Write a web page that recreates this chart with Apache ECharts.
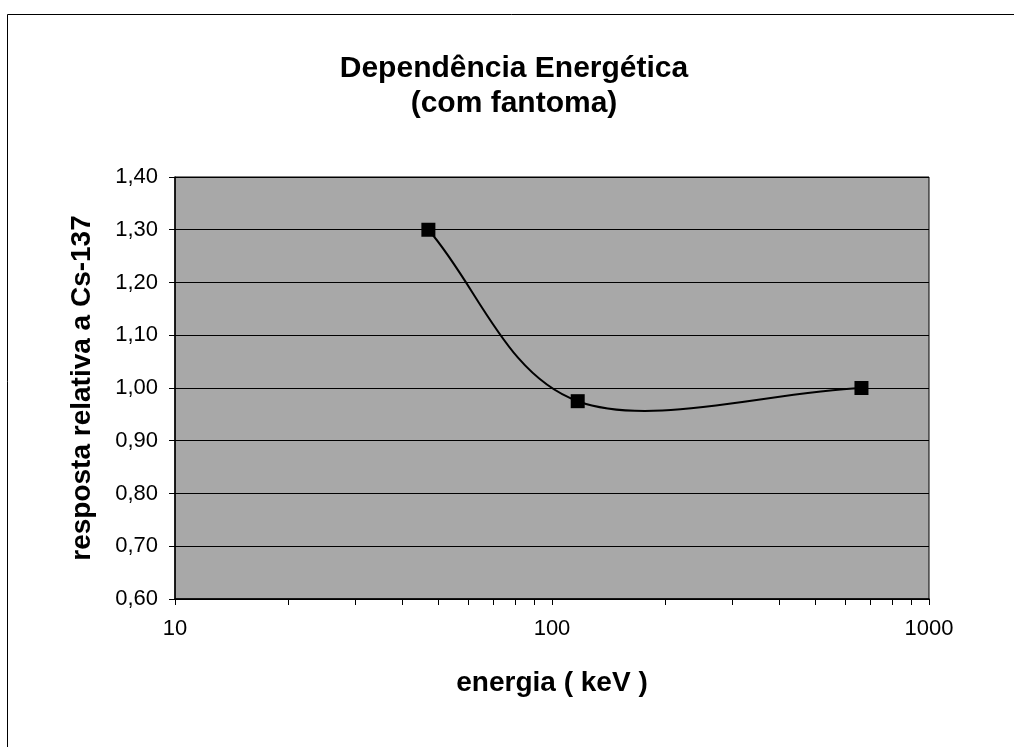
<!DOCTYPE html>
<html>
<head>
<meta charset="utf-8">
<script src="https://cdn.jsdelivr.net/npm/echarts@6/dist/echarts.min.js"></script>
<style>
  html, body { margin: 0; padding: 0; background: #ffffff; }
  #chart { width: 1014px; height: 747px; }
</style>
</head>
<body>
<div id="chart"></div>
<script>
// Energy response relative to Cs-137, measured with phantom
const energies = [47, 117, 662];          // keV
const responses = [1.30, 0.975, 1.00];    // relative response

const xLabelValues = [10, 100, 1000];
const xTickValues = [10, 20, 30, 40, 50, 60, 70, 80, 90, 100,
                     200, 300, 400, 500, 600, 700, 800, 900, 1000];

const titleText = 'Dependência Energética\n(com fantoma)';
const xName = 'energia ( keV )';
const yName = 'resposta relativa a Cs-137';

const font = 'Liberation Sans, Arial, sans-serif';

const points = energies.map((e, i) => [e, responses[i]]);

// Smoothed curve: cubic Bezier segments with Catmull-Rom style tangents,
// computed in pixel space from the axis-mapped data points.
function renderCurve(params, api) {
  const i = params.dataIndex;
  const n = points.length;
  if (i >= n - 1) return null;
  const P = points.map(p => api.coord(p));
  const tangent = k => {
    if (k === 0) return [P[1][0] - P[0][0], P[1][1] - P[0][1]];
    if (k === n - 1) return [P[n - 1][0] - P[n - 2][0], P[n - 1][1] - P[n - 2][1]];
    return [(P[k + 1][0] - P[k - 1][0]) / 2, (P[k + 1][1] - P[k - 1][1]) / 2];
  };
  const t0 = tangent(i);
  const t1 = tangent(i + 1);
  return {
    type: 'bezierCurve',
    shape: {
      x1: P[i][0], y1: P[i][1],
      x2: P[i + 1][0], y2: P[i + 1][1],
      cpx1: P[i][0] + t0[0] / 3, cpy1: P[i][1] + t0[1] / 3,
      cpx2: P[i + 1][0] - t1[0] / 3, cpy2: P[i + 1][1] - t1[1] / 3
    },
    style: { stroke: '#000', lineWidth: 2, fill: null }
  };
}

const chart = echarts.init(document.getElementById('chart'), null, { renderer: 'canvas' });

chart.setOption({
  backgroundColor: '#ffffff',
  animation: false,
  title: {
    text: titleText,
    left: 509,
    top: 46,
    textAlign: 'center',
    textStyle: {
      fontFamily: font,
      fontSize: 30,
      fontWeight: 'bold',
      color: '#000',
      lineHeight: 35
    }
  },
  graphic: [{
    type: 'rect',
    shape: { x: 7.5, y: 14.5, width: 1020, height: 740 },
    style: { fill: 'none', stroke: '#000', lineWidth: 1 },
    silent: true,
    z: -1
  }],
  grid: {
    left: 175, right: 85, top: 177, bottom: 148,
    show: true,
    backgroundColor: '#a8a8a8',
    borderColor: '#000',
    borderWidth: 1
  },
  xAxis: {
    type: 'log',
    logBase: 10,
    min: 10,
    max: 1000,
    name: xName,
    nameLocation: 'middle',
    nameGap: 70,
    nameTextStyle: { fontFamily: font, fontSize: 28, fontWeight: 'bold', color: '#000' },
    axisLine: { show: true, lineStyle: { color: '#000', width: 1.5 } },
    axisTick: { show: true, inside: false, length: 6, customValues: xTickValues,
                lineStyle: { color: '#000', width: 1 } },
    axisLabel: { fontFamily: font, fontSize: 22, color: '#000', margin: 19,
                 customValues: xLabelValues, formatter: v => String(v) },
    splitLine: { show: false },
    minorTick: { show: false }
  },
  yAxis: {
    type: 'value',
    min: 0.6,
    max: 1.4,
    interval: 0.1,
    name: yName,
    nameLocation: 'middle',
    nameGap: 79,
    nameTextStyle: { fontFamily: font, fontSize: 28, fontWeight: 'bold', color: '#000' },
    axisLine: { show: true, lineStyle: { color: '#000', width: 1.5 } },
    axisTick: { show: true, inside: false, length: 6, lineStyle: { color: '#000', width: 1 } },
    axisLabel: {
      fontFamily: font, fontSize: 22, color: '#000', margin: 17,
      formatter: v => v.toFixed(2).replace('.', ',')
    },
    splitLine: { show: true, lineStyle: { color: '#000', width: 1 } }
  },
  series: [{
    type: 'custom',
    data: points,
    encode: { x: 0, y: 1 },
    renderItem: renderCurve,
    z: 2
  }, {
    type: 'scatter',
    data: points,
    symbol: 'rect',
    symbolSize: 14,
    itemStyle: { color: '#000', opacity: 1 },
    z: 3
  }]
});
</script>
</body>
</html>
